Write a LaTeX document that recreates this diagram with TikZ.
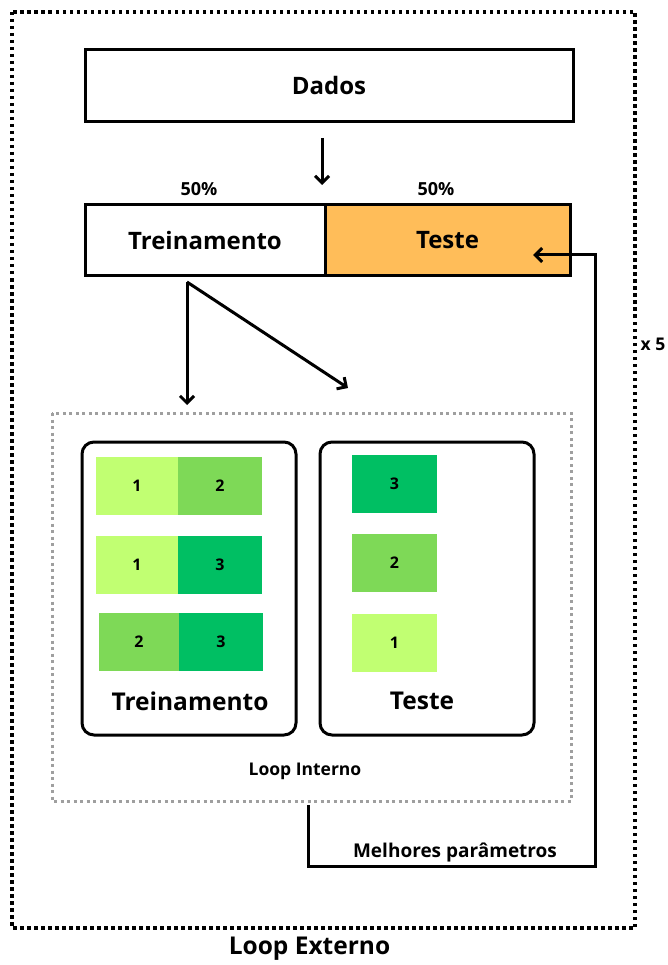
\documentclass[tikz,border=0pt]{standalone}
\usepackage{fontspec}
\setmainfont{Open Sans}
\usetikzlibrary{arrows.meta,calc}
\definecolor{lime}{HTML}{C1FF72}
\definecolor{leaf}{HTML}{7ED957}
\definecolor{emerald}{HTML}{00BF63}
\definecolor{amber}{HTML}{FFBD59}

\begin{document}
\begin{tikzpicture}[x=1pt,y=-1pt,line cap=butt,line join=miter,font=\bfseries,
  box/.style={draw,line width=3pt,inner sep=0pt,font=\bfseries\fontsize{24}{28}\selectfont},
  panel/.style={draw,line width=3pt,rounded corners=12pt,inner sep=0pt,minimum width=214pt,minimum height=293pt},
  tile/.style={inner sep=0pt,minimum height=58pt,font=\bfseries\fontsize{16}{19}\selectfont},
  small/.style={font=\bfseries\fontsize{18}{21}\selectfont},
  arr/.style={line width=3pt,-{Straight Barb[length=7pt,width=14pt,line width=3pt]}}]
  \useasboundingbox (0,0) rectangle (668,965);

  % Outer loop frame.
  \draw[line width=3.5pt,dash pattern=on 3.5pt off 3.5pt] (12,12) rectangle (635,928);
  \node (externo) at (309.5,949) {\fontsize{24.5}{28}\selectfont Loop Externo};

  % Data and the 50/50 split.
  \node[box,minimum width=488pt,minimum height=72pt] (dados) at (329,86) {Dados};
  \node[box,minimum width=240pt,minimum height=71pt] (treino) at (205,240.5) {Treinamento};
  \node[box,fill=amber,minimum width=245pt,minimum height=71pt] (teste) at (447.5,240.5) {Teste};
  \node[small] (pct1) at (199,189) {50\%};
  \node[small] (pct2) at (436,189) {50\%};
  \coordinate (d0) at (322,138);
  \draw[arr] (d0) -- (d0 |- 0,185);

  % Fork from the training part.
  \coordinate (fork) at (187,282);
  \coordinate (f1) at (187,405);
  \coordinate (f2) at (348,388);
  \draw[arr] (fork) -- (f1);
  \draw[arr] (fork) -- (f2);

  % Inner loop.
  \draw[gray!75,line width=3pt,dash pattern=on 3pt off 3.5pt] (52,413) rectangle (571,801);
  \node[font=\bfseries\fontsize{17.5}{20}\selectfont] (interno) at (305,771) {Loop Interno};
  \node[panel] (ptreino) at (189,588.5) {};
  \node[panel] (pteste) at (427,588.5) {};
  \node[font=\bfseries\fontsize{24.5}{28}\selectfont] (ltreino) at (190,701) {Treinamento};
  \node[font=\bfseries\fontsize{24.5}{28}\selectfont] (lteste) at (422,701) {Teste};

  \node[tile,fill=lime,minimum width=82pt] (a1) at (137,486) {1};
  \node[tile,fill=leaf,minimum width=84pt] (b1) at (220,486) {2};
  \node[tile,fill=lime,minimum width=82pt] (a2) at (137,565) {1};
  \node[tile,fill=emerald,minimum width=84pt] (b2) at (220,565) {3};
  \node[tile,fill=leaf,minimum width=80pt] (a3) at (139,641.5) {2};
  \node[tile,fill=emerald,minimum width=84pt] (b3) at (221,641.5) {3};

  \node[tile,fill=emerald,minimum width=85pt] (c1) at (394.5,483.5) {3};
  \node[tile,fill=leaf,minimum width=85pt] (c2) at (394.5,563) {2};
  \node[tile,fill=lime,minimum width=85pt] (c3) at (394.5,642.5) {1};

  % Best parameters fed back to the outer test part.
  \coordinate (r0) at (308,805);
  \coordinate (r1) at (533,255);
  \draw[arr] (r0) -- (308,866) -- (595,866) -- (595,255) -- (r1);
  \node[font=\bfseries\fontsize{19}{22}\selectfont] (melhores) at (455,852) {Melhores parâmetros};
  \node[font=\bfseries\fontsize{17.5}{20}\selectfont] (vezes) at (653,344) {x 5};
\end{tikzpicture}
\end{document}
